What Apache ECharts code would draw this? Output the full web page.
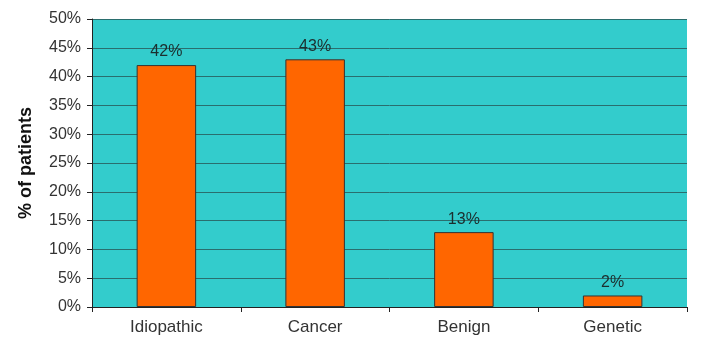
<!DOCTYPE html>
<html><head><meta charset="utf-8">
<script src="https://cdn.jsdelivr.net/npm/echarts@6/dist/echarts.min.js"></script>
<style>html,body{margin:0;padding:0;background:#fff}#c{width:719px;height:353px}</style>
</head><body><div id="c"></div>
<script>
const categories = ["Idiopathic", "Cancer", "Benign", "Genetic"];
const values = [42, 43, 13, 2];
const chart = echarts.init(document.getElementById('c'));
chart.setOption({
  animation: false,
  grid: {left: 92, right: 32, top: 19, bottom: 46, show: true, backgroundColor: '#33CCCC', borderWidth: 0},
  xAxis: {
    type: 'category', data: categories,
    axisLine: {lineStyle: {color: '#222', width: 1}},
    axisTick: {show: true, alignWithLabel: false, length: 5, lineStyle: {color: '#222'}},
    axisLabel: {color: '#333', fontSize: 17, fontFamily: 'Liberation Sans, Arial', margin: 12}
  },
  yAxis: {
    type: 'value', min: 0, max: 50, interval: 5,
    name: '% of patients', nameLocation: 'middle', nameGap: 57,
    nameTextStyle: {fontSize: 18, fontWeight: 'bold', color: '#111', fontFamily: 'Liberation Sans, Arial'},
    axisLine: {show: true, lineStyle: {color: '#222'}},
    axisTick: {show: true, length: 5, lineStyle: {color: '#222'}},
    axisLabel: {formatter: '{value}%', color: '#333', fontSize: 16, fontFamily: 'Liberation Sans, Arial', margin: 11},
    splitLine: {lineStyle: {color: '#2a6e6e', width: 1}}
  },
  series: [{
    type: 'bar', data: values, barWidth: '40%',
    itemStyle: {color: '#FF6600', borderColor: '#333', borderWidth: 1},
    label: {show: true, position: 'top', formatter: '{c}%', color: '#1c2e2e', fontSize: 16, fontFamily: 'Liberation Sans, Arial', distance: 5}
  }]
});
</script></body></html>
